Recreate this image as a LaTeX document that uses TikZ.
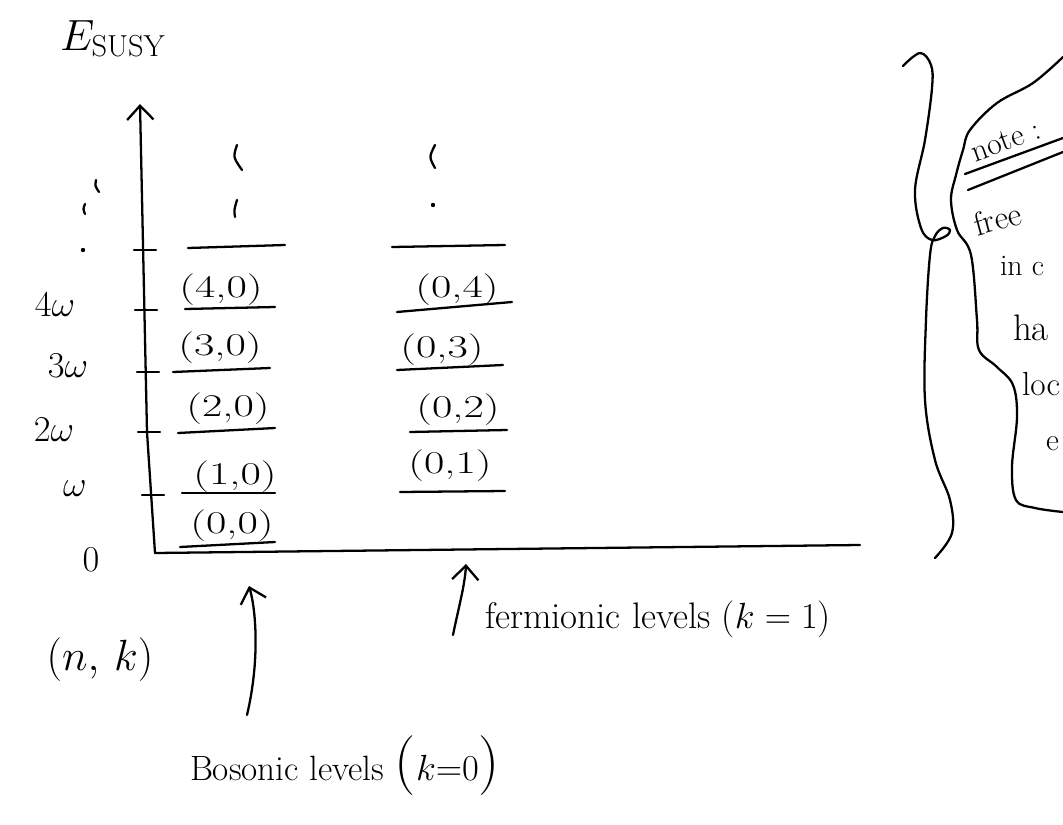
\documentclass[tikz,border=0pt]{standalone}
\usepackage{amsmath}
\usetikzlibrary{arrows.meta}
\newcommand{\lvtxt}[1]{\scalebox{1.4}[1]{#1}}
\begin{document}
\begin{tikzpicture}[x=0.02cm,y=-0.02cm,
  ink/.style={line width=1.3pt,line cap=round,line join=round},
  barb/.style={-{Straight Barb[length=8pt,width=15pt,line width=1.3pt]}},
  hand/.style={inner sep=0pt,outer sep=0pt},
  axlab/.style={hand,font=\fontsize{20}{22}\selectfont},
  lvlab/.style={hand,font=\fontsize{18}{20}\selectfont},
  big/.style={hand,font=\fontsize{21}{24}\selectfont},
  note/.style={hand,font=\fontsize{19}{21}\selectfont,anchor=base west}]
\useasboundingbox (0,0) rectangle (1063,825);

% title
\node[hand,anchor=base west,font=\fontsize{27}{30}\selectfont] (title) at (60,50) {$E_{\mathrm{SUSY}}$};

% axes
\coordinate (O) at (155,553);
\coordinate (Ytop) at (140,104);
\coordinate (Xend) at (860,545);
\draw[ink,barb] (O) -- (147,432) -- (Ytop);
\draw[ink] (O) -- (Xend);

% ticks
\foreach \y/\x in {250/143,310/144,372/146,432/147,495/151}
  \draw[ink] ({\x-9},\y) -- ({\x+13},\y);

% axis labels
\node[axlab] (l4) at (55,305) {$4\omega$};
\node[axlab] (l3) at (68,366) {$3\omega$};
\node[axlab] (l2) at (54,430) {$2\omega$};
\node[axlab] (l1) at (75,489) {$\omega$};
\node[axlab] (l0) at (91,560) {$0$};
\fill (83,250) circle (2.2);
\draw[ink] (96,180) .. controls (95,186) .. (99,192);
\draw[ink] (85,204) .. controls (83,209) .. (85,214);

% bosonic column
\draw[ink] (188,248) -- (285,245);
\draw[ink] (237,145) .. controls (233,157) .. (242,170);
\draw[ink] (237,200) .. controls (234,210) .. (235,217);
\node[lvlab] (b4) at (221,290) {\lvtxt{(4,0)}};
\draw[ink] (185,309) -- (275,307);
\node[lvlab] (b3) at (220,348) {\lvtxt{(3,0)}};
\draw[ink] (173,372) -- (270,368);
\node[lvlab] (b2) at (228,409) {\lvtxt{(2,0)}};
\draw[ink] (178,433) -- (275,428);
\node[lvlab] (b1) at (235,477) {\lvtxt{(1,0)}};
\draw[ink] (182,493) -- (275,493);
\node[lvlab] (b0) at (232,526) {\lvtxt{(0,0)}};
\draw[ink] (180,547) -- (275,542);

% fermionic column
\draw[ink] (392,247) -- (505,245);
\draw[ink] (435,145) .. controls (429,157) .. (435,168);
\fill (433,205) circle (2.2);
\node[lvlab] (f4) at (457,290) {\lvtxt{(0,4)}};
\draw[ink] (397,312) -- (512,302);
\node[lvlab] (f3) at (442,350) {\lvtxt{(0,3)}};
\draw[ink] (397,370) -- (503,365);
\node[lvlab] (f2) at (458,410) {\lvtxt{(0,2)}};
\draw[ink] (410,432) -- (507,430);
\node[lvlab] (f1) at (450,466) {\lvtxt{(0,1)}};
\draw[ink] (400,492) -- (505,491);

% bottom annotations
\node[hand,font=\fontsize{27}{30}\selectfont] (nk) at (100,660) {$(n,\,k)$};
\node[big,anchor=base west] (ferm) at (485,628) {fermionic levels ($k=1$)};
\node[hand,font=\fontsize{20}{22}\selectfont,anchor=base west] (bos) at (190,780)
  {Bosonic levels {\fontsize{34}{34}\selectfont(}$k{=}0${\fontsize{34}{34}\selectfont)}};
\coordinate (bstart) at (247,715);
\coordinate (btip) at (249,586);
\draw[ink,barb] (bstart) .. controls (260,660) and (256,610) .. (btip);
\coordinate (fstart) at (453,635);
\coordinate (ftip) at (466,564);
\draw[ink,barb] (fstart) .. controls (458,610) and (465,585) .. (ftip);

% brace on the right
\draw[ink] plot[smooth,tension=0.6] coordinates {(903,66) (920,53) (931,65) (932,88) (925,140) (915,190) (921,228) (932,240) (946,236) (950,230) (943,228) (935,236) (930,255) (926,320) (925,400) (935,460) (950,500) (952,533) (935,558)};

% note cloud
\draw[ink] plot[smooth,tension=0.6] coordinates {(1063,57) (1033,83) (997,103) (970,130) (963,150) (956,175) (951,200) (957,230) (971,255) (977,320) (979,350) (997,367) (1013,385) (1017,417) (1012,467) (1016,500) (1035,508) (1063,512)};
\draw[ink] (965,174) -- (1063,138);
\draw[ink] (968,190) -- (1063,152);
\node[note,rotate=20,font=\fontsize{18}{20}\selectfont] (nt) at (975,162) {note :};
\node[note,rotate=15] (fr) at (977,236) {free};
\node[note,font=\fontsize{17}{19}\selectfont] (inc) at (1000,275) {in c};
\node[note,font=\fontsize{21}{23}\selectfont] (ha) at (1013,340) {ha};
\node[note,font=\fontsize{19}{21}\selectfont] (loc) at (1022,395) {loc};
\node[note,font=\fontsize{18}{20}\selectfont] (el) at (1046,450) {e};
\end{tikzpicture}
\end{document}
